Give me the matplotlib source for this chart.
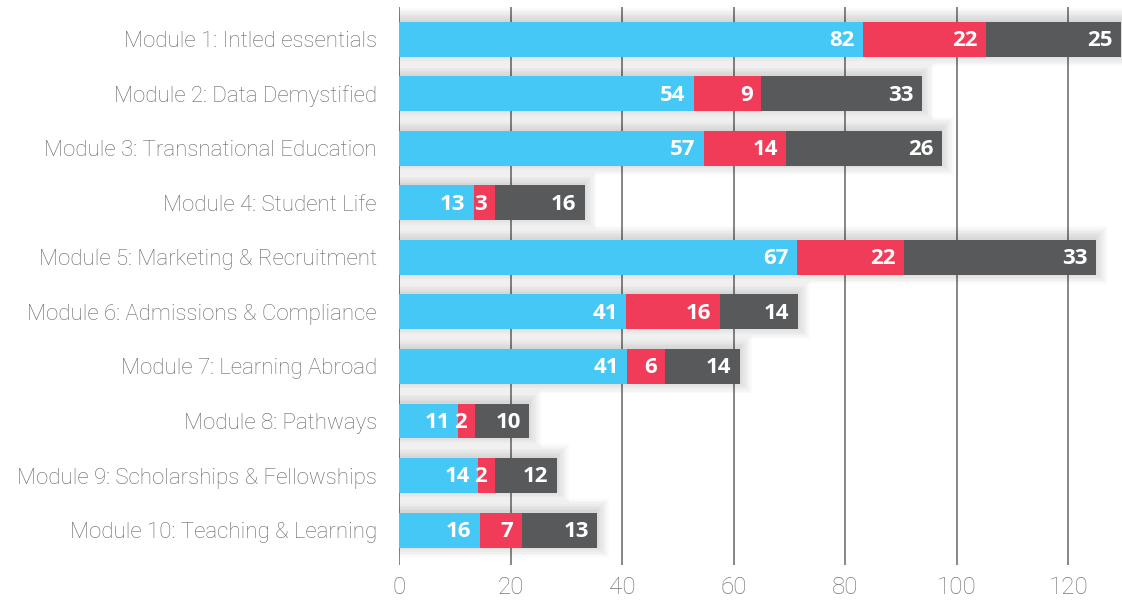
import numpy as np
import matplotlib.pyplot as plt

modules = [
    "Module 1: Intled essentials",
    "Module 2: Data Demystified",
    "Module 3: Transnational Education",
    "Module 4: Student Life",
    "Module 5: Marketing & Recruitment",
    "Module 6: Admissions & Compliance",
    "Module 7: Learning Abroad",
    "Module 8: Pathways",
    "Module 9: Scholarships & Fellowships",
    "Module 10: Teaching & Learning",
]
# bar lengths as drawn in the picture
blue_len = [83.2, 52.9, 54.7, 13.4, 71.3, 40.7, 40.9, 10.6, 14.2, 14.5]
red_len = [22.0, 12.0, 14.7, 3.8, 19.2, 16.8, 6.8, 3.0, 3.0, 7.5]
grey_len = [24.3, 28.8, 27.9, 16.1, 34.4, 14.0, 13.4, 9.7, 11.1, 13.5]
# numbers printed on the bars
blue_lbl = [82, 54, 57, 13, 67, 41, 41, 11, 14, 16]
red_lbl = [22, 9, 14, 3, 22, 16, 6, 2, 2, 7]
grey_lbl = [25, 33, 26, 16, 33, 14, 14, 10, 12, 13]
x_ticks = [0, 20, 40, 60, 80, 100, 120]

colors = ["#45C8F5", "#F03C58", "#58595B"]

fig = plt.figure(figsize=(11.22, 6.03), dpi=100)
ax = fig.add_axes([0.3556, 0.063, 0.6444, 0.925])

y = np.arange(len(modules))
h = 0.64
blue = np.array(blue_len)
red = np.array(red_len)
grey = np.array(grey_len)
total = blue + red + grey

# soft drop shadow behind each bar
for k in range(8):
    ax.barh(y - 0.04, total + 0.3 * k, height=h + 0.06 * k, left=0,
            color="black", alpha=0.018, linewidth=0, zorder=1)

segments = [(blue, np.zeros_like(blue), blue_lbl),
            (red, blue, red_lbl),
            (grey, blue + red, grey_lbl)]
for (vals, left, lbls), c in zip(segments, colors):
    bars = ax.barh(y, vals, left=left, height=h, color=c, linewidth=0, zorder=3)
    for b, v in zip(bars, lbls):
        ax.annotate(str(v), xy=(b.get_x() + b.get_width(), b.get_y() + b.get_height() / 2),
                    xytext=(-6, -1), textcoords="offset points",
                    ha="right", va="center", color="white", fontsize=16,
                    fontweight="bold", family="Open Sans", zorder=4,
                    annotation_clip=False)

ax.set_xlim(0, 129.6)
ax.set_ylim(len(modules) - 1 + 0.64, -0.586)
ax.set_yticks(y)
ax.set_yticklabels(modules, fontsize=16, color="#676767", family="Roboto",
                   fontweight="light")
ax.set_xticks(x_ticks)
ax.set_xticklabels([str(t) for t in x_ticks], fontsize=17.5, color="#777777",
                   family="Roboto", fontweight="light")
ax.tick_params(axis="y", length=0, pad=16)
ax.tick_params(axis="x", length=0, pad=8)

for s in ax.spines.values():
    s.set_visible(False)
ax.xaxis.grid(True, color="#7d7d7d", linewidth=1.3, zorder=0)
ax.set_axisbelow(True)

fig.savefig("out.png", dpi=100)
